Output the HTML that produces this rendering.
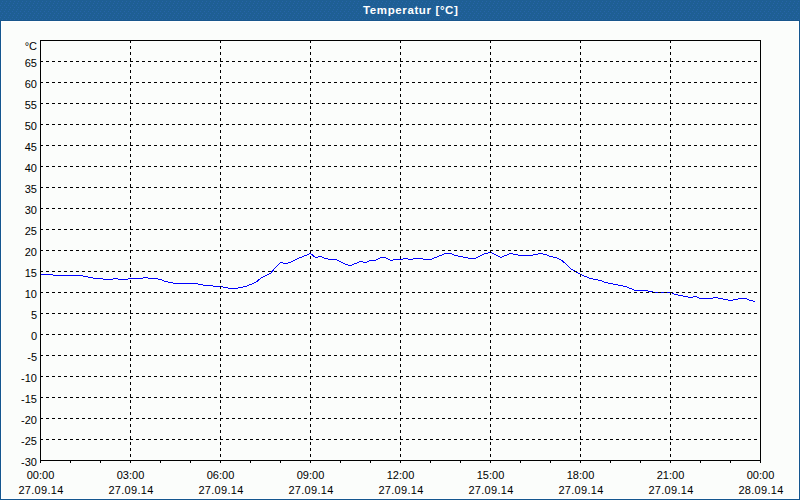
<!DOCTYPE html>
<html><head><meta charset="utf-8">
<style>
html,body{margin:0;padding:0;}
body{width:800px;height:500px;overflow:hidden;position:relative;background:#fbfdfb;font-family:"Liberation Sans",sans-serif;}

#title{position:absolute;left:363px;top:3px;font-size:11.5px;font-weight:bold;color:#fff;line-height:14px;white-space:nowrap;letter-spacing:0.62px;}
#bar2{position:absolute;left:0;top:20px;width:800px;height:1px;background:#18568c;}
#bl{position:absolute;left:0;top:21px;width:1px;height:479px;background:#14568f;}
#br{position:absolute;left:799px;top:21px;width:1px;height:479px;background:#14568f;}
#bb{position:absolute;left:0;top:499px;width:800px;height:1px;background:#14568f;}
#inner{position:absolute;left:1px;top:21px;width:796px;height:476px;border:1px solid #fff;border-right-color:#fff;}
svg{position:absolute;left:0;top:0;}
.yl{position:absolute;left:0;width:37px;text-align:right;font-size:11px;line-height:12px;color:#000;white-space:nowrap;}
.xl{position:absolute;width:101px;text-align:center;font-size:11px;line-height:12px;color:#000;white-space:nowrap;}
</style></head><body>
<svg id="barsvg" width="800" height="20" style="position:absolute;left:0;top:0"><defs><pattern id="dots" patternUnits="userSpaceOnUse" x="0" y="0" width="4" height="6"><rect width="4" height="6" fill="#1e5f94"/><rect x="2" y="1" width="1" height="1" fill="#2764a8"/><rect x="1" y="3" width="1" height="1" fill="#2764a8"/><rect x="0" y="5" width="1" height="1" fill="#2764a8"/></pattern></defs><rect width="800" height="20" fill="url(#dots)"/></svg>
<div id="title">Temperatur [°C]</div>
<div id="bar2"></div><div id="inner"></div><div id="bl"></div><div id="br"></div><div id="bb"></div>
<svg width="800" height="500" shape-rendering="crispEdges">
<polyline points="40.5,274.5 45.5,274.5 50.5,274.5 55.5,275.5 60.5,275.5 65.5,275.5 70.5,275.5 75.5,275.5 80.5,275.5 85.5,276.5 90.5,277.5 95.5,278.5 100.5,278.5 105.5,279.5 110.5,279.5 115.5,278.5 120.5,279.5 125.5,279.5 130.5,278.5 135.5,278.5 140.5,278.5 145.5,277.5 150.5,278.5 155.5,278.5 160.5,279.5 165.5,281.5 170.5,282.5 175.5,283.5 180.5,283.5 185.5,283.5 190.5,283.5 195.5,283.5 200.5,284.5 205.5,285.5 210.5,285.5 215.5,286.5 220.5,286.5 225.5,287.5 230.5,288.5 235.5,288.5 240.5,287.5 245.5,286.5 250.5,284.5 255.5,282.5 260.5,278.5 265.5,275.5 270.5,273.5 275.5,267.5 280.5,262.5 285.5,263.5 290.5,262.5 295.5,259.5 300.5,257.5 305.5,255.5 310.5,253.5 315.5,257.5 320.5,256.5 325.5,258.5 330.5,259.5 335.5,259.5 340.5,261.5 345.5,264.5 350.5,265.5 355.5,263.5 360.5,261.5 365.5,262.5 370.5,260.5 375.5,260.5 380.5,257.5 385.5,257.5 390.5,260.5 395.5,259.5 400.5,259.5 405.5,258.5 410.5,259.5 415.5,258.5 420.5,258.5 425.5,259.5 430.5,259.5 435.5,257.5 440.5,255.5 445.5,253.5 450.5,253.5 455.5,255.5 460.5,256.5 465.5,257.5 470.5,258.5 475.5,258.5 480.5,255.5 485.5,253.5 490.5,252.5 495.5,254.5 500.5,257.5 505.5,255.5 510.5,253.5 515.5,254.5 520.5,255.5 525.5,255.5 530.5,255.5 535.5,254.5 540.5,253.5 545.5,254.5 550.5,256.5 555.5,257.5 560.5,259.5 565.5,263.5 570.5,268.5 575.5,271.5 580.5,274.5 585.5,276.5 590.5,278.5 595.5,279.5 600.5,280.5 605.5,282.5 610.5,283.5 615.5,284.5 620.5,285.5 625.5,286.5 630.5,288.5 635.5,290.5 640.5,290.5 645.5,290.5 650.5,291.5 655.5,292.5 660.5,292.5 665.5,292.5 670.5,292.5 675.5,294.5 680.5,295.5 685.5,296.5 690.5,297.5 695.5,296.5 700.5,298.5 705.5,298.5 710.5,298.5 715.5,297.5 720.5,298.5 725.5,299.5 730.5,300.5 735.5,299.5 740.5,298.5 745.5,298.5 750.5,300.5 755.5,301.5" fill="none" stroke="#0000ff" stroke-width="1"/>
<line x1="40" y1="61.5" x2="760" y2="61.5" stroke="#000" stroke-dasharray="3 3"/>
<line x1="40" y1="82.5" x2="760" y2="82.5" stroke="#000" stroke-dasharray="3 3"/>
<line x1="40" y1="103.5" x2="760" y2="103.5" stroke="#000" stroke-dasharray="3 3"/>
<line x1="40" y1="124.5" x2="760" y2="124.5" stroke="#000" stroke-dasharray="3 3"/>
<line x1="40" y1="145.5" x2="760" y2="145.5" stroke="#000" stroke-dasharray="3 3"/>
<line x1="40" y1="166.5" x2="760" y2="166.5" stroke="#000" stroke-dasharray="3 3"/>
<line x1="40" y1="187.5" x2="760" y2="187.5" stroke="#000" stroke-dasharray="3 3"/>
<line x1="40" y1="208.5" x2="760" y2="208.5" stroke="#000" stroke-dasharray="3 3"/>
<line x1="40" y1="229.5" x2="760" y2="229.5" stroke="#000" stroke-dasharray="3 3"/>
<line x1="40" y1="250.5" x2="760" y2="250.5" stroke="#000" stroke-dasharray="3 3"/>
<line x1="40" y1="271.5" x2="760" y2="271.5" stroke="#000" stroke-dasharray="3 3"/>
<line x1="40" y1="292.5" x2="760" y2="292.5" stroke="#000" stroke-dasharray="3 3"/>
<line x1="40" y1="313.5" x2="760" y2="313.5" stroke="#000" stroke-dasharray="3 3"/>
<line x1="40" y1="334.5" x2="760" y2="334.5" stroke="#000" stroke-dasharray="3 3"/>
<line x1="40" y1="355.5" x2="760" y2="355.5" stroke="#000" stroke-dasharray="3 3"/>
<line x1="40" y1="376.5" x2="760" y2="376.5" stroke="#000" stroke-dasharray="3 3"/>
<line x1="40" y1="397.5" x2="760" y2="397.5" stroke="#000" stroke-dasharray="3 3"/>
<line x1="40" y1="418.5" x2="760" y2="418.5" stroke="#000" stroke-dasharray="3 3"/>
<line x1="40" y1="439.5" x2="760" y2="439.5" stroke="#000" stroke-dasharray="3 3"/>
<line x1="130.5" y1="40" x2="130.5" y2="460" stroke="#000" stroke-dasharray="3 3"/>
<line x1="220.5" y1="40" x2="220.5" y2="460" stroke="#000" stroke-dasharray="3 3"/>
<line x1="310.5" y1="40" x2="310.5" y2="460" stroke="#000" stroke-dasharray="3 3"/>
<line x1="400.5" y1="40" x2="400.5" y2="460" stroke="#000" stroke-dasharray="3 3"/>
<line x1="490.5" y1="40" x2="490.5" y2="460" stroke="#000" stroke-dasharray="3 3"/>
<line x1="580.5" y1="40" x2="580.5" y2="460" stroke="#000" stroke-dasharray="3 3"/>
<line x1="670.5" y1="40" x2="670.5" y2="460" stroke="#000" stroke-dasharray="3 3"/>
<rect x="40.5" y="40.5" width="720" height="420" fill="none" stroke="#000"/>
<line x1="40.5" y1="460" x2="40.5" y2="463" stroke="#000"/>
<line x1="70.5" y1="460" x2="70.5" y2="463" stroke="#000"/>
<line x1="100.5" y1="460" x2="100.5" y2="463" stroke="#000"/>
<line x1="130.5" y1="460" x2="130.5" y2="463" stroke="#000"/>
<line x1="160.5" y1="460" x2="160.5" y2="463" stroke="#000"/>
<line x1="190.5" y1="460" x2="190.5" y2="463" stroke="#000"/>
<line x1="220.5" y1="460" x2="220.5" y2="463" stroke="#000"/>
<line x1="250.5" y1="460" x2="250.5" y2="463" stroke="#000"/>
<line x1="280.5" y1="460" x2="280.5" y2="463" stroke="#000"/>
<line x1="310.5" y1="460" x2="310.5" y2="463" stroke="#000"/>
<line x1="340.5" y1="460" x2="340.5" y2="463" stroke="#000"/>
<line x1="370.5" y1="460" x2="370.5" y2="463" stroke="#000"/>
<line x1="400.5" y1="460" x2="400.5" y2="463" stroke="#000"/>
<line x1="430.5" y1="460" x2="430.5" y2="463" stroke="#000"/>
<line x1="460.5" y1="460" x2="460.5" y2="463" stroke="#000"/>
<line x1="490.5" y1="460" x2="490.5" y2="463" stroke="#000"/>
<line x1="520.5" y1="460" x2="520.5" y2="463" stroke="#000"/>
<line x1="550.5" y1="460" x2="550.5" y2="463" stroke="#000"/>
<line x1="580.5" y1="460" x2="580.5" y2="463" stroke="#000"/>
<line x1="610.5" y1="460" x2="610.5" y2="463" stroke="#000"/>
<line x1="640.5" y1="460" x2="640.5" y2="463" stroke="#000"/>
<line x1="670.5" y1="460" x2="670.5" y2="463" stroke="#000"/>
<line x1="700.5" y1="460" x2="700.5" y2="463" stroke="#000"/>
<line x1="730.5" y1="460" x2="730.5" y2="463" stroke="#000"/>
<line x1="760.5" y1="460" x2="760.5" y2="463" stroke="#000"/>
</svg>
<div class="yl" style="top:40px">°C</div>
<div class="yl" style="top:57px">65</div>
<div class="yl" style="top:78px">60</div>
<div class="yl" style="top:99px">55</div>
<div class="yl" style="top:120px">50</div>
<div class="yl" style="top:141px">45</div>
<div class="yl" style="top:162px">40</div>
<div class="yl" style="top:183px">35</div>
<div class="yl" style="top:204px">30</div>
<div class="yl" style="top:225px">25</div>
<div class="yl" style="top:246px">20</div>
<div class="yl" style="top:267px">15</div>
<div class="yl" style="top:288px">10</div>
<div class="yl" style="top:309px">5</div>
<div class="yl" style="top:330px">0</div>
<div class="yl" style="top:351px">-5</div>
<div class="yl" style="top:372px">-10</div>
<div class="yl" style="top:393px">-15</div>
<div class="yl" style="top:414px">-20</div>
<div class="yl" style="top:435px">-25</div>
<div class="yl" style="top:456px">-30</div>
<div class="xl" style="left:-10px;top:469px">00:00</div>
<div class="xl" style="left:-9.5px;top:484px"><span style="letter-spacing:0.28px">27.09.14</span></div>
<div class="xl" style="left:80px;top:469px">03:00</div>
<div class="xl" style="left:80.5px;top:484px"><span style="letter-spacing:0.28px">27.09.14</span></div>
<div class="xl" style="left:170px;top:469px">06:00</div>
<div class="xl" style="left:170.5px;top:484px"><span style="letter-spacing:0.28px">27.09.14</span></div>
<div class="xl" style="left:260px;top:469px">09:00</div>
<div class="xl" style="left:260.5px;top:484px"><span style="letter-spacing:0.28px">27.09.14</span></div>
<div class="xl" style="left:350px;top:469px">12:00</div>
<div class="xl" style="left:350.5px;top:484px"><span style="letter-spacing:0.28px">27.09.14</span></div>
<div class="xl" style="left:440px;top:469px">15:00</div>
<div class="xl" style="left:440.5px;top:484px"><span style="letter-spacing:0.28px">27.09.14</span></div>
<div class="xl" style="left:530px;top:469px">18:00</div>
<div class="xl" style="left:530.5px;top:484px"><span style="letter-spacing:0.28px">27.09.14</span></div>
<div class="xl" style="left:620px;top:469px">21:00</div>
<div class="xl" style="left:620.5px;top:484px"><span style="letter-spacing:0.28px">27.09.14</span></div>
<div class="xl" style="left:710px;top:469px">00:00</div>
<div class="xl" style="left:710.5px;top:484px"><span style="letter-spacing:0.28px">28.09.14</span></div>
</body></html>
